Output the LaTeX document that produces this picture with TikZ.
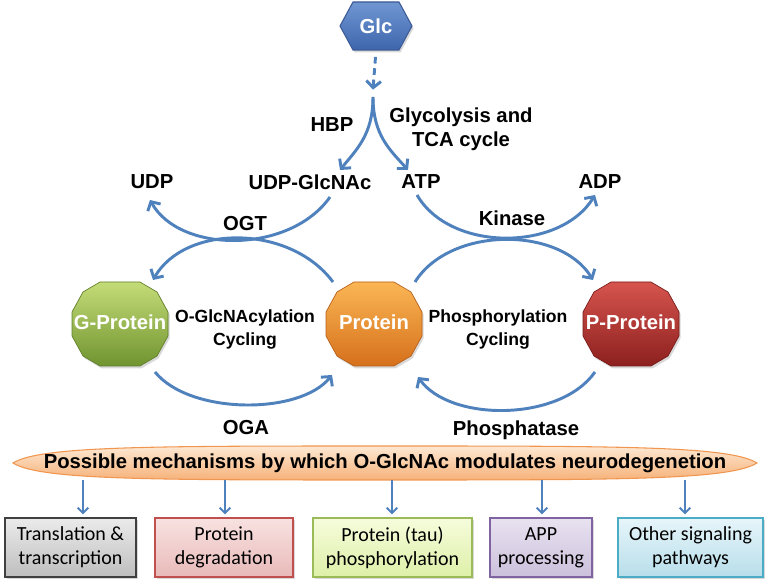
\documentclass[tikz,border=0pt]{standalone}
\usepackage{fontspec}
\setmainfont{Liberation Sans}
\newfontfamily\boxfont{Carlito}
\usetikzlibrary{arrows.meta,shadows,backgrounds,calc}
\definecolor{arrblue}{RGB}{79,129,189}
\definecolor{gtop}{RGB}{196,220,120}
\definecolor{gbot}{RGB}{112,148,48}
\definecolor{otop}{RGB}{250,182,84}
\definecolor{obot}{RGB}{214,112,28}
\definecolor{rtop}{RGB}{214,84,78}
\definecolor{rbot}{RGB}{140,32,30}
\definecolor{htop}{RGB}{112,150,210}
\definecolor{hbot}{RGB}{62,102,172}
\definecolor{hline}{RGB}{60,90,150}
\definecolor{etop}{RGB}{253,232,210}
\definecolor{ebot}{RGB}{246,178,122}
\definecolor{eline}{RGB}{240,150,80}
\begin{document}
\begin{tikzpicture}[x=0.75pt,y=-0.75pt,
  arr/.style={draw=arrblue,line width=2.2pt,-{Straight Barb[length=5pt,width=11pt]}},
  arrs/.style={draw=arrblue,line width=1.5pt,-{Straight Barb[length=4pt,width=8pt]}},
  lbl/.style={font=\fontsize{15.2}{18}\selectfont\bfseries,inner sep=0pt,align=center},
  cyc/.style={font=\fontsize{13.2}{17.2}\selectfont\bfseries,align=center,inner sep=0pt},
  protlbl/.style={lbl,text=white},
  mbox/.style={line width=0.9pt,font=\boxfont\fontsize{15}{18}\selectfont,align=center,
    inner sep=0pt,minimum height=44.25pt,
    drop shadow={shadow xshift=1.5pt,shadow yshift=-1.5pt,opacity=0.3}},
  sh/.style={drop shadow={shadow xshift=1.2pt,shadow yshift=-1.8pt,opacity=0.3}}
]
\useasboundingbox (0,0) rectangle (768,584);

% ---------- nodes ----------
\node[protlbl,minimum width=54pt,minimum height=36pt] (glc) at (376,26) {Glc};
\node[lbl] (hbp) at (332,125) {HBP};
\node[lbl] (glyc) at (461,129) {Glycolysis and\\TCA cycle};
\node[lbl] (udp) at (152,182) {UDP};
\node[lbl] (udpg) at (310,182) {UDP-GlcNAc};
\node[lbl] (atp) at (421,182) {ATP};
\node[lbl] (adp) at (600,182) {ADP};
\node[lbl] (ogt) at (245,224) {OGT};
\node[lbl] (kin) at (512,218) {Kinase};
\node[protlbl] (gp) at (120,322) {G-Protein};
\node[protlbl] (prot) at (374,322) {Protein};
\node[protlbl] (pp) at (631,322) {P-Protein};
\node[cyc] (ogcyc) at (245,329.5) {O-GlcNAcylation\\Cycling};
\node[cyc] (phcyc) at (498,329.5) {Phosphorylation\\Cycling};
\node[lbl] (oga) at (246,428) {OGA};
\node[lbl] (ptase) at (516,430) {Phosphatase};
\node[lbl] (mech) at (385,463) {Possible mechanisms by which O-GlcNAc modulates neurodegenetion};

\node[mbox,draw={rgb,255:red,64;green,64;blue,64},top color={rgb,255:red,235;green,235;blue,235},bottom color={rgb,255:red,190;green,190;blue,190},minimum width=98.25pt] (b1) at (70.5,547.5) {Translation \&\\transcription};
\node[mbox,draw={rgb,255:red,192;green,80;blue,77},top color={rgb,255:red,248;green,226;blue,225},bottom color={rgb,255:red,232;green,186;blue,185},minimum width=103.5pt] (b2) at (224,547.5) {Protein\\degradation};
\node[mbox,draw={rgb,255:red,155;green,187;blue,89},top color={rgb,255:red,246;green,252;blue,220},bottom color={rgb,255:red,222;green,240;blue,168},minimum width=119.25pt] (b3) at (392.5,547.5) {Protein (tau)\\phosphorylation};
\node[mbox,draw={rgb,255:red,128;green,100;blue,162},top color={rgb,255:red,232;green,226;blue,240},bottom color={rgb,255:red,204;green,192;blue,220},minimum width=76.5pt] (b4) at (541,547.5) {APP\\processing};
\node[mbox,draw={rgb,255:red,75;green,172;blue,198},top color={rgb,255:red,230;green,245;blue,250},bottom color={rgb,255:red,184;green,222;blue,234},minimum width=108.75pt] (b5) at (690.5,547.5) {Other signaling\\pathways};

% ---------- shapes behind the texts ----------
\begin{pgfonlayer}{background}
  \begin{scope}[shift={(glc)}]
    \path[draw=hline,line width=0.8pt,top color=htop,bottom color=hbot,sh]
      (-36,0) -- (-23,-24) -- (23,-24) -- (36,0) -- (23,24) -- (-23,24) -- cycle;
  \end{scope}
  \foreach \n/\ct/\cb in {gp/gtop/gbot,prot/otop/obot,pp/rtop/rbot}{
    \begin{scope}[shift={(\n)},yshift=-1.5pt]
      \path[draw=\cb!85!black,line width=0.5pt,top color=\ct,bottom color=\cb,sh]
        (-20,-42) -- (20,-42) -- (37,-32) -- (48,-12) -- (48,12) -- (37,32)
        -- (20,42) -- (-20,42) -- (-37,32) -- (-48,12) -- (-48,-12) -- (-37,-32) -- cycle;
    \end{scope}
  }
  \begin{scope}[shift={(mech)}]
    \path[draw=eline,line width=0.8pt,top color=etop,bottom color=ebot]
      (-372,0) .. controls (-345,-17) and (-235,-17) .. (0,-17)
      .. controls (235,-17) and (345,-17) .. (372,0)
      .. controls (345,17) and (235,17) .. (0,17)
      .. controls (-235,17) and (-345,17) .. (-372,0) -- cycle;
  \end{scope}
\end{pgfonlayer}

% ---------- connector end points ----------
\coordinate (fork) at (373,97);
\coordinate (hbpE) at (340,170);
\coordinate (glyE) at (408,170);
\coordinate (ogtA) at (330,197);
\coordinate (ogtB) at (150,200);
\coordinate (ogtC) at (333,282);
\coordinate (ogtD) at (153,280);
\coordinate (kinA) at (417,195);
\coordinate (kinB) at (595,195);
\coordinate (kinC) at (415,282);
\coordinate (kinD) at (593,280);
\coordinate (ogaA) at (155,372);
\coordinate (ogaB) at (332,375);
\coordinate (phA) at (595,372);
\coordinate (phB) at (418,377);

% ---------- connectors ----------
\draw[arr,dash pattern=on 5pt off 3.5pt,shorten <=5pt] (glc.south) -- ([yshift=5.5pt]fork);
\draw[arr] (fork) .. controls (373,135) and (356,150) .. (hbpE);
\draw[arr] (fork) .. controls (373,135) and (390,150) .. (glyE);

\draw[arr] (ogtA) .. controls (290,254) and (180,254) .. (ogtB);
\draw[arr] (ogtC) .. controls (290,224) and (185,224) .. (ogtD);
\draw[arr] (kinA) .. controls (450,252) and (560,252) .. (kinB);
\draw[arr] (kinC) .. controls (450,226) and (560,226) .. (kinD);
\draw[arr] (ogaA) .. controls (190,415) and (300,415) .. (ogaB);
\draw[arr] (phA) .. controls (560,422) and (450,422) .. (phB);

\foreach \b/\dx in {b1/12.5,b2/1,b3/-0.5,b4/1,b5/-5.5}
  \draw[arrs] ($(\b.north)+(\dx,-37)$) -- ($(\b.north)+(\dx,-3)$);
\end{tikzpicture}
\end{document}
